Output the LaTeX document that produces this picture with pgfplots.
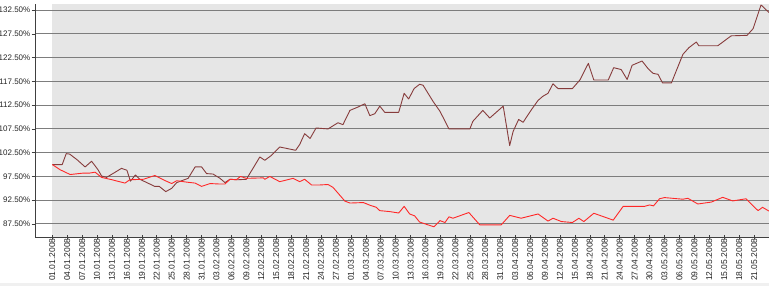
\documentclass[border=0pt]{standalone}
\usepackage{pgfplots}
\pgfplotsset{compat=1.18}
\usepackage{fontspec}
\setmainfont{Liberation Sans}
\definecolor{darkser}{RGB}{135,60,60}
\definecolor{redser}{RGB}{255,40,40}
\definecolor{bggray}{RGB}{230,230,230}
\definecolor{gridgray}{RGB}{125,125,125}
\begin{document}
\begin{tikzpicture}
\begin{axis}[
  set layers,
  scale only axis, width=734bp, height=233bp,
  xmin=-3.47, xmax=144, ymin=84.75, ymax=133.8,
  axis x line*=bottom, axis y line*=left,
  axis line style={black!75, line width=0.8bp, -},
  xtick={0,3,...,141},
  xticklabels={01.01.2008,04.01.2008,07.01.2008,10.01.2008,13.01.2008,16.01.2008,19.01.2008,22.01.2008,25.01.2008,28.01.2008,31.01.2008,03.02.2008,06.02.2008,09.02.2008,12.02.2008,15.02.2008,18.02.2008,21.02.2008,24.02.2008,27.02.2008,01.03.2008,04.03.2008,07.03.2008,10.03.2008,13.03.2008,16.03.2008,19.03.2008,22.03.2008,25.03.2008,28.03.2008,31.03.2008,03.04.2008,06.04.2008,09.04.2008,12.04.2008,15.04.2008,18.04.2008,21.04.2008,24.04.2008,27.04.2008,30.04.2008,03.05.2008,06.05.2008,09.05.2008,12.05.2008,15.05.2008,18.05.2008,21.05.2008},
  x tick label style={rotate=90, anchor=east, font=\fontsize{8.5bp}{9bp}\selectfont, inner sep=1bp, xshift=1.5bp, text=black!85},
  ytick={87.5,92.5,97.5,102.5,107.5,112.5,117.5,122.5,127.5,132.5},
  yticklabels={87.50\%,92.50\%,97.50\%,102.50\%,107.50\%,112.50\%,117.50\%,122.50\%,127.50\%,132.50\%},
  y tick label style={font=\fontsize{8bp}{9bp}\selectfont, inner sep=1bp, text=black!85},
  xtick align=center, ytick align=outside, major tick length=3.5bp,
  tick style={black!75, line width=0.6bp},
  ymajorgrids, major grid style={gridgray, line width=0.9bp},
  every axis plot/.append style={line width=0.9bp, line join=round},
]
\begin{pgfonlayer}{axis background}
\fill[bggray] (axis cs:0,84.75) rectangle (axis cs:144,133.8);
\end{pgfonlayer}
\addplot[darkser] coordinates {
(0,100) (2,100) (2.8,102.3) (3.5,102.2) (5,101) (6.6,99.5) (7.9,100.7) (9.2,98.9) (9.9,97.6) (10.9,97.3) (12.5,98.3) (13.9,99.2) (15,98.8) (15.7,96.5) (16.7,97.8) (17.6,96.9) (19,96.2) (20.6,95.4) (21.5,95.4) (22.8,94.3) (24,95.0) (25,96.2) (27.3,97.1) (28.7,99.5) (30,99.5) (31,98.1) (32.3,98.0) (33.7,97.1) (34.7,96.2) (35.7,96.9) (37.3,96.8) (39,96.9) (41.7,101.6) (42.7,100.9) (44,101.9) (45.7,103.7) (48.9,103.0) (49.7,104.2) (50.7,106.5) (51.8,105.5) (53,107.7) (55.4,107.5) (57.4,108.8) (58.4,108.4) (59.8,111.4) (61.4,112.1) (62.8,112.8) (63.8,110.3) (64.8,110.7) (65.8,112.3) (66.8,111.0) (69.6,111.0) (70.7,115.0) (71.6,113.8) (72.7,116.0) (73.8,116.9) (74.5,116.7) (76.5,113.3) (77.9,111.2) (79.7,107.5) (83.9,107.5) (84.5,109.1) (86.5,111.4) (87.9,109.8) (90.6,112.3) (91.9,104.0) (92.6,107.0) (93.7,109.5) (94.6,108.9) (96.3,111.6) (97.6,113.5) (98.6,114.4) (99.6,115.0) (100.6,117.0) (101.6,116.0) (104.5,116.0) (106,117.8) (107.7,121.3) (108.8,117.8) (111.7,117.8) (112.8,120.4) (114.3,120.0) (115.5,117.9) (116.5,120.9) (118.5,121.8) (119.7,120.2) (120.7,119.2) (121.7,119.0) (122.6,117.2) (124.4,117.2) (126.7,123.2) (127.9,124.6) (129.4,125.8) (129.9,125.0) (133.7,125.0) (136.4,127.1) (139.6,127.2) (140.8,128.6) (142.4,133.6) (144,132.0)
};
\addplot[redser] coordinates {
(0,100) (1.6,98.9) (3.6,97.9) (6.2,98.2) (7.5,98.2) (8.6,98.4) (9.9,97.3) (12,96.8) (14.6,96.1) (15.6,96.8) (18.3,96.9) (20.6,97.7) (22.5,96.7) (24,96.0) (25,96.6) (27,96.3) (28.7,96.1) (30,95.4) (31.7,96.0) (33.7,95.9) (34.7,95.9) (35.7,96.9) (37,96.8) (37.8,97.5) (39,97.1) (42.4,97.2) (42.7,96.9) (43.7,97.5) (45.7,96.4) (48.4,97.1) (49.7,96.4) (50.7,96.9) (52.1,95.7) (53.7,95.7) (55.4,95.8) (56.4,95.2) (58.8,92.3) (59.8,91.9) (62.5,92.0) (63.8,91.45) (65.1,91.0) (65.8,90.3) (67.8,90.1) (69.6,89.8) (70.7,91.2) (71.8,89.6) (72.8,89.2) (73.8,87.9) (75.5,87.3) (76.7,86.9) (77.9,88.2) (78.9,87.8) (79.7,89.0) (80.5,88.7) (83.7,89.9) (85.9,87.3) (90.2,87.3) (91.9,89.3) (94.2,88.7) (97.6,89.6) (99.6,88.1) (100.6,88.7) (102.3,88.0) (104.5,87.8) (105.8,88.7) (106.8,88.0) (108.8,89.75) (112.7,88.3) (114.7,91.2) (119,91.2) (120,91.5) (120.8,91.3) (122,92.8) (123,93.05) (126.7,92.7) (127.7,92.9) (129.7,91.7) (132.4,92.1) (134.7,93.1) (136.7,92.35) (139.4,92.8) (140.8,91.3) (141.8,90.3) (142.7,91.0) (144,90.2)
};
\end{axis}
\fill[black!6] ([xshift=-35bp,yshift=-49bp]current axis.south west) rectangle ([yshift=-46bp]current axis.south east);
\pgfresetboundingbox
\path[use as bounding box] ([xshift=-35bp,yshift=-49bp]current axis.south west) rectangle ([yshift=4bp]current axis.north east);
\end{tikzpicture}
\end{document}
